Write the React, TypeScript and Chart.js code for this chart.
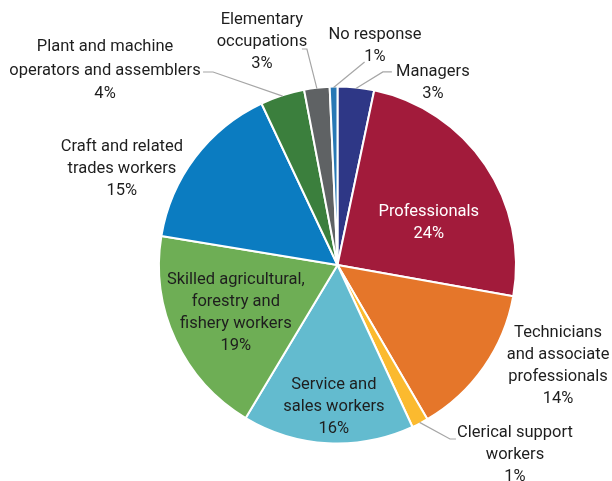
import React, { useEffect, useRef } from "react";
import { Chart, ArcElement, PieController, Plugin } from "chart.js";

Chart.register(PieController, ArcElement);

// occupation groups, each split into the lines shown on the chart
const categories: string[][] = [
  ["Managers"],
  ["Professionals"],
  ["Technicians", "and associate", "professionals"],
  ["Clerical support", "workers"],
  ["Service and", "sales workers"],
  ["Skilled agricultural,", "forestry and", "fishery workers"],
  ["Craft and related", "trades workers"],
  ["Plant and machine", "operators and assemblers"],
  ["Elementary", "occupations"],
  ["No response"],
];
const shares = [3.3, 24.5, 13.8, 1.5, 15.5, 19.0, 15.4, 4.0, 2.3, 0.7];
const shareLabels = ["3%", "24%", "14%", "1%", "16%", "19%", "15%", "4%", "3%", "1%"];
const colors = [
  "#2e3786",
  "#a21b3b",
  "#e5762a",
  "#fbba2f",
  "#63bbcf",
  "#6eae55",
  "#0b7cc1",
  "#3b7f3d",
  "#5f6264",
  "#2878b5",
];

// where each label sits: k = fraction of the radius along the slice middle,
// dx/dy = shift of the first text line, leader = [elbow dx, elbow dy, tail]
type Placement = {
  k: number;
  dx: number;
  dy: number;
  color?: string;
  lh?: number;
  leader?: [number, number, number];
};
const placements: Placement[] = [
  { k: 1, dx: 77, dy: -16.5, leader: [27, -16.5, 9] },
  { k: 0.6, dx: 3, dy: 6.6, color: "#ffffff" },
  { k: 1, dx: 75, dy: -33.6 },
  { k: 1, dx: 95.4, dy: 10.6, leader: [30.4, 16.6, 6] },
  { k: 0.7, dx: 3, dy: -4 },
  { k: 0.6, dx: -5, dy: -29.7 },
  { k: 1, dx: -74, dy: -11 },
  { k: 1, dx: -177.6, dy: -49.2, lh: 23.5, leader: [-69.6, -24.2, -10] },
  { k: 1, dx: -55, dy: -68.7, leader: [-10, -39.7, -5] },
  { k: 1, dx: 41.4, dy: -52.5, leader: [31, -25.5, 0] },
];

const FONT = '16.5px Roboto, "Liberation Sans", sans-serif';

const sliceLabels: Plugin<"pie"> = {
  id: "sliceLabels",
  afterDatasetsDraw(chart) {
    const ctx = chart.ctx;
    const meta = chart.getDatasetMeta(0);
    ctx.save();
    ctx.font = FONT;
    ctx.textAlign = "center";
    ctx.textBaseline = "middle";
    meta.data.forEach((el, i) => {
      const arc = el as unknown as ArcElement;
      const { x, y, startAngle, endAngle, outerRadius } = arc.getProps(
        ["x", "y", "startAngle", "endAngle", "outerRadius"],
        true
      ) as any;
      const p = placements[i];
      const mid = (startAngle + endAngle) / 2;
      const r = (outerRadius - 1) * p.k;
      const ax = x + Math.cos(mid) * r;
      const ay = y + Math.sin(mid) * r;
      if (p.leader) {
        const [ex, ey, tail] = p.leader;
        ctx.strokeStyle = "#a6a6a6";
        ctx.lineWidth = 1.2;
        ctx.beginPath();
        ctx.moveTo(ax, ay);
        ctx.lineTo(ax + ex, ay + ey);
        if (tail) ctx.lineTo(ax + ex + tail, ay + ey);
        ctx.stroke();
      }
      const lines = [...categories[i], shareLabels[i]];
      const lh = p.lh ?? 22;
      ctx.fillStyle = p.color ?? "#1e1e1e";
      lines.forEach((line, j) => {
        ctx.fillText(line, ax + p.dx, ay + p.dy + j * lh);
      });
    });
    ctx.restore();
  },
};

export default function App() {
  const canvasRef = useRef<HTMLCanvasElement>(null);
  useEffect(() => {
    const ctx = canvasRef.current?.getContext("2d");
    if (!ctx) return;
    const chart = new Chart(ctx, {
      type: "pie",
      data: {
        labels: categories,
        datasets: [
          {
            data: shares,
            backgroundColor: colors,
            borderColor: "#ffffff",
            borderWidth: 2,
          },
        ],
      },
      options: {
        animation: false,
        responsive: true,
        maintainAspectRatio: false,
        radius: 178.5,
        layout: { padding: { left: 63, top: 49, right: 0, bottom: 0 } },
        plugins: {
          legend: { display: false },
          tooltip: { enabled: false },
        },
      },
      plugins: [sliceLabels],
    });
    return () => {
      chart.destroy();
    };
  }, []);

  return (
    <div
      style={{
        position: "fixed",
        left: 0,
        top: 0,
        width: 612,
        height: 481,
        background: "#ffffff",
      }}
    >
      <canvas ref={canvasRef} />
    </div>
  );
}
